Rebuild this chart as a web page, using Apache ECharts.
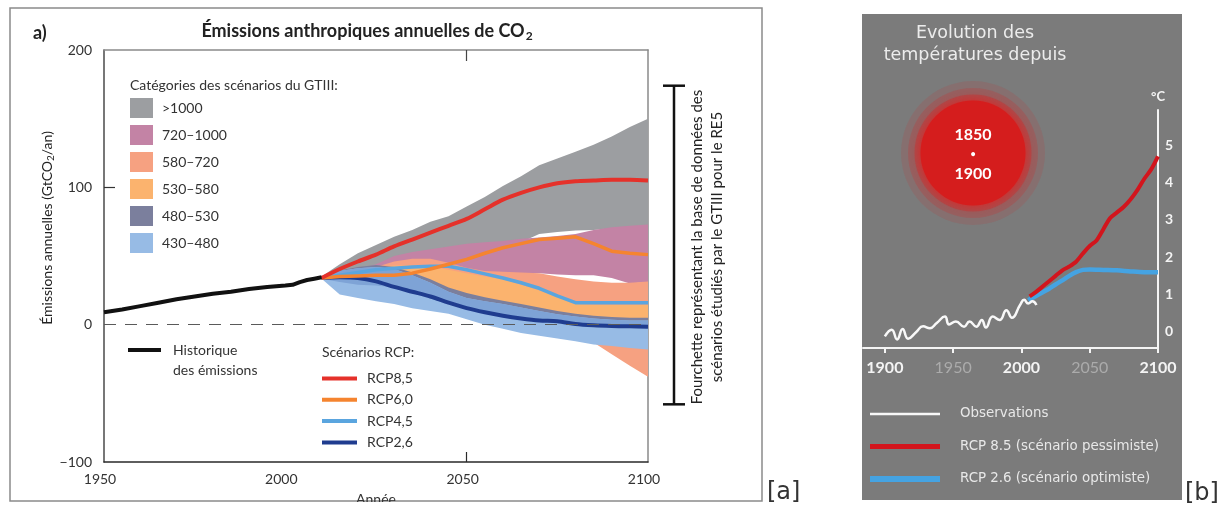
<!DOCTYPE html>
<html>
<head>
<meta charset="utf-8">
<script src="https://cdn.jsdelivr.net/npm/echarts@6/dist/echarts.min.js"></script>
<style>
  html, body { margin: 0; padding: 0; background: #fff; }
  #chart { width: 1222px; height: 511px; }
</style>
</head>
<body>
<div id="chart"></div>
<script>
// ---------- Panel a: annual anthropogenic CO2 emissions (GtCO2/yr) ----------
const bandYears = [2010, 2015, 2020, 2025, 2030, 2035, 2040, 2045, 2050, 2055, 2060, 2065, 2070, 2075, 2080, 2085, 2090, 2095, 2100];

// scenario category ranges (lower / upper envelope)
const bandGt1000Hi = [35, 44, 52, 58, 64, 69, 75, 79, 86, 93, 101, 108, 116, 121, 126, 131, 137, 144, 150];
const bandGt1000Lo = [34, 35, 37, 41, 47, 50, 52, 54, 56, 57, 58, 60, 66, 67.5, 68.5, 69, 70, 71, 72];
const band720Hi = [34, 37, 40, 44, 50, 53, 55, 57, 59, 60, 61, 62.5, 63.5, 64.5, 66, 69, 71, 72, 73];
const band720Lo = [33, 34, 36, 38, 40, 41, 41, 40, 38, 37, 37, 37, 37.5, 36.5, 36, 36, 34, 30, 31];
const band580Hi = [34, 36, 39, 42, 46, 48, 48, 45, 41.5, 39, 38.5, 38, 37.5, 35, 33, 31.5, 30.5, 30.5, 31.5];
const band580Lo = [34, 30, 25, 22, 20, 17, 14, 12, 8, 4, 1, -2, -4, -7, -10, -13, -21.5, -30, -38];
const band530Hi = [34, 37, 40, 42, 43, 43, 42, 40, 37.5, 35, 33, 29, 25, 20, 15, 14.5, 14.5, 14.5, 14.5];
const band530Lo = [33, 35, 38, 40, 39, 35, 30, 24, 20, 17, 15, 12, 10, 7.5, 5.5, 4, 3, 3, 3];
const band480Hi = [35, 39.5, 42, 43.5, 42, 38, 33, 27, 23, 20, 17.5, 15, 12.5, 10, 8, 6.5, 5.5, 5, 5];
const band480Lo = [33.5, 31, 29, 28.5, 27, 23, 19, 15, 12, 9, 6.5, 5, 4, 3.5, 2, 0.5, -0.5, -1, -1.5];
const band430Hi = [34.5, 39, 41, 42, 40.5, 36, 30.5, 24, 19.5, 17, 15, 12.5, 10, 7.5, 6, 4.5, 3.5, 3, 3];
const band430Lo = [33.5, 22, 19.5, 17, 15, 12, 10, 8, 4, 0, -3, -6, -8, -10, -12, -14.5, -15.5, -17, -18];

// historical emissions
const histYears = [1950, 1955, 1960, 1965, 1970, 1975, 1980, 1985, 1990, 1995, 2000, 2002, 2004, 2006, 2008, 2010];
const histEmissions = [9, 11, 13.5, 16, 18.5, 20.5, 22.5, 24, 26, 27.5, 28.5, 29, 31, 32.5, 33.5, 34.5];

// RCP pathways
const rcpYears = bandYears;
const rcp85 = [34, 40.5, 46, 51, 57, 62, 67, 72, 77, 84, 91, 96, 100, 103, 104.5, 105, 105.5, 105.5, 105];
const rcp60 = [34, 35, 35.5, 36, 36, 37.5, 40.5, 44, 47.5, 52, 56, 59, 62, 63, 64, 59, 53.5, 52, 51];
const rcp45 = [34, 36, 38, 40, 41, 42, 42.5, 42.5, 40, 37, 34, 30.5, 26.5, 21, 16, 16, 16, 16, 16];
const rcp26 = [34, 34.5, 34, 31.5, 27.5, 24, 20.5, 16, 12, 9, 6.5, 4.5, 3, 2.5, 0.5, -0.5, -1, -1.2, -1.5];

const xTicksA = [1950, 2000, 2050, 2100];
const bracketRange = [-58, 174];

// ---------- Panel b: temperature change since 1850-1900 (°C) ----------
const obsYears = [1900, 1905, 1909, 1913, 1917, 1923, 1928, 1933, 1938, 1944, 1947, 1952, 1958, 1962, 1967, 1971, 1974, 1979, 1984, 1989, 1993, 1999, 2002, 2005, 2008, 2011];
const obsTemp = [-0.12, 0.06, -0.2, 0.08, -0.18, 0.0, 0.15, 0.1, 0.24, 0.41, 0.2, 0.28, 0.14, 0.28, 0.14, 0.32, 0.12, 0.41, 0.32, 0.58, 0.38, 0.72, 0.86, 0.76, 0.82, 0.72];
const proj85Years = [2006, 2010, 2015, 2020, 2025, 2030, 2035, 2040, 2045, 2050, 2055, 2060, 2065, 2070, 2075, 2080, 2085, 2090, 2095, 2100];
const proj85Temp = [0.95, 1.05, 1.2, 1.35, 1.5, 1.65, 1.75, 1.88, 2.1, 2.3, 2.45, 2.75, 3.05, 3.2, 3.35, 3.55, 3.8, 4.1, 4.35, 4.7];
const proj26Years = [2005, 2010, 2015, 2020, 2025, 2030, 2035, 2040, 2045, 2050, 2060, 2070, 2080, 2090, 2100];
const proj26Temp = [0.85, 0.95, 1.05, 1.15, 1.27, 1.38, 1.5, 1.6, 1.66, 1.67, 1.66, 1.65, 1.62, 1.6, 1.6];

const xTicksB = [1900, 1950, 2000, 2050, 2100];
const yTicksB = [0, 1, 2, 3, 4, 5];

// ---------- helpers ----------
const FA = 'Lato, "Open Sans", sans-serif';
const FB = '"DejaVu Sans", sans-serif';
const pairs = (xs, ys) => xs.map((x, i) => [x, ys[i]]);
const plainNumber = v => (v < 0 ? '\u2212' + Math.abs(v) : String(v));

function bandSeries(name, lo, hi, color) {
  return {
    type: 'custom',
    name: name,
    xAxisIndex: 0,
    yAxisIndex: 0,
    silent: true,
    z: 1,
    itemStyle: { color: color },
    data: [[bandYears[0], hi[0]]],
    renderItem: function (params, api) {
      const pts = [];
      for (let i = 0; i < bandYears.length; i++) pts.push(api.coord([bandYears[i], hi[i]]));
      for (let i = bandYears.length - 1; i >= 0; i--) pts.push(api.coord([bandYears[i], lo[i]]));
      return { type: 'polygon', shape: { points: pts }, style: { fill: color } };
    }
  };
}

// where the 480–530 and 430–480 ranges overlap, the colours mix
const overlapLo = bandYears.map((_, i) => Math.max(band480Lo[i], band430Lo[i]));
const overlapHi = bandYears.map((_, i) => Math.max(overlapLo[i], Math.min(band480Hi[i], band430Hi[i])));

const bands = [
  ['>1000', bandGt1000Lo, bandGt1000Hi, '#9c9ea1'],
  ['720–1000', band720Lo, band720Hi, '#c383a5'],
  ['580–720', band580Lo, band580Hi, '#f6a181'],
  ['530–580', band530Lo, band530Hi, '#fbb36e'],
  ['480–530', band480Lo, band480Hi, '#7b7f9d'],
  ['430–480', band430Lo, band430Hi, '#97bbe5']
];

const series = bands.map(b => bandSeries(b[0], b[1], b[2], b[3]));
const overlap = bandSeries('', overlapLo, overlapHi, '#7ea3d6');
delete overlap.name;
series.push(overlap);

function rcpLine(name, values, color, width, smooth) {
  return {
    type: 'line', name: name, xAxisIndex: 0, yAxisIndex: 0,
    data: pairs(rcpYears, values), symbol: 'none', smooth: smooth, z: 3,
    lineStyle: { color: color, width: width }, itemStyle: { color: color }
  };
}
series.push(rcpLine('RCP2,6', rcp26, '#1f3c8f', 4, 0.3));
series.push(rcpLine('RCP4,5', rcp45, '#5aa5df', 3.5, false));
series.push(rcpLine('RCP6,0', rcp60, '#f5842f', 3.5, false));
series.push(rcpLine('RCP8,5', rcp85, '#e5312a', 4, 0.3));
series.push({
  type: 'line', name: 'Historique des émissions', xAxisIndex: 0, yAxisIndex: 0,
  data: pairs(histYears, histEmissions), symbol: 'none', z: 4,
  lineStyle: { color: '#111', width: 4 }, itemStyle: { color: '#111' },
  markLine: {
    silent: true, symbol: 'none', label: { show: false },
    lineStyle: { type: [12, 9], color: '#5a5a5a', width: 1 },
    data: [{ yAxis: 0 }]
  }
});

series.push({
  type: 'line', name: 'RCP 2.6 (scénario optimiste)', xAxisIndex: 2, yAxisIndex: 2,
  data: pairs(proj26Years, proj26Temp), symbol: 'none', smooth: 0.3, z: 3,
  lineStyle: { color: '#45a3e2', width: 4.5 }, itemStyle: { color: '#45a3e2' }
});
series.push({
  type: 'line', name: 'RCP 8.5 (scénario pessimiste)', xAxisIndex: 2, yAxisIndex: 2,
  data: pairs(proj85Years, proj85Temp), symbol: 'none', smooth: 0.3, z: 3,
  lineStyle: { color: '#d2151d', width: 4 }, itemStyle: { color: '#d2151d' }
});
series.push({
  type: 'line', name: 'Observations', xAxisIndex: 2, yAxisIndex: 2,
  data: pairs(obsYears, obsTemp), symbol: 'none', smooth: true, z: 4,
  lineStyle: { color: '#f8f8f8', width: 2.5 }, itemStyle: { color: '#f8f8f8' }
});

const txtA = { fontFamily: FA, fontSize: 14, color: '#333' };

const option = {
  animation: false,
  backgroundColor: '#ffffff',
  title: [
    {
      text: '{t|Émissions anthropiques annuelles de CO}{s|2}',
      left: 367, top: 21, padding: 0, textAlign: 'center',
      textStyle: {
        rich: {
          t: { fontFamily: FA, fontSize: 18, fontWeight: 'bold', color: '#222' },
          s: { fontFamily: FA, fontSize: 12, fontWeight: 'bold', color: '#222', padding: [9, 0, 0, 1] }
        }
      }
    },
    {
      text: 'Evolution des\ntempératures depuis',
      left: 975, top: 22, padding: 0, textAlign: 'center',
      textStyle: { fontFamily: FB, fontSize: 17.5, fontWeight: 'normal', color: '#ececec', lineHeight: 22 }
    }
  ],
  grid: [
    { left: 104, top: 50, width: 544, height: 413 },
    { left: 863, top: 110, width: 295, height: 238 }
  ],
  xAxis: [
    {
      gridIndex: 0, type: 'value', min: 1950, max: 2100, position: 'bottom',
      axisLine: { show: true, onZero: false, lineStyle: { color: '#2a2a2a', width: 1.5 } },
      axisTick: { show: true, inside: true, length: 10, customValues: [2050], lineStyle: { color: '#2a2a2a', width: 1.2 } },
      axisLabel: Object.assign({ customValues: xTicksA, margin: 10, padding: [0, 8, 0, 0], formatter: plainNumber }, txtA),
      splitLine: { show: false },
      name: 'Année', nameLocation: 'middle', nameGap: 30, nameTextStyle: txtA
    },
    {
      gridIndex: 0, type: 'value', min: 1950, max: 2100, position: 'top',
      axisLine: { show: true, onZero: false, lineStyle: { color: '#8a8a8a', width: 1.5 } },
      axisTick: { show: true, inside: true, length: 11, customValues: [2050], lineStyle: { color: '#444', width: 1.2 } },
      axisLabel: { show: false }, splitLine: { show: false }
    },
    {
      gridIndex: 1, type: 'value', min: 1884, max: 2100,
      axisLine: { show: true, onZero: false, lineStyle: { color: '#f4f4f4', width: 2 } },
      axisTick: { show: true, length: 5, customValues: xTicksB, lineStyle: { color: '#f4f4f4', width: 2 } },
      axisLabel: {
        customValues: xTicksB, margin: 12,
        formatter: v => (v % 100 === 0 ? '{b|' + v + '}' : '{d|' + v + '}'),
        rich: {
          b: { fontFamily: FA, fontSize: 16, fontWeight: 'bold', color: '#f4f4f4' },
          d: { fontFamily: FA, fontSize: 16, fontWeight: 'normal', color: '#ababab' }
        }
      },
      splitLine: { show: false }
    }
  ],
  yAxis: [
    {
      gridIndex: 0, type: 'value', min: -100, max: 200, interval: 100, position: 'left',
      axisLine: { show: true, onZero: false, lineStyle: { color: '#4a4a4a', width: 1.5 } },
      axisTick: { show: true, inside: true, length: 11, customValues: [100], lineStyle: { color: '#333', width: 1.2 } },
      axisLabel: Object.assign({ margin: 12, formatter: plainNumber }, txtA),
      splitLine: { show: false },
      name: '{n|Émissions annuelles (GtCO}{s|2}{n|/an)}',
      nameLocation: 'middle', nameGap: 46, nameRotate: 90,
      nameTextStyle: {
        padding: [0, 0, 0, 56],
        rich: {
          n: { fontFamily: FA, fontSize: 14, color: '#222' },
          s: { fontFamily: FA, fontSize: 10, color: '#222', padding: [6, 0, 0, 0] }
        }
      }
    },
    {
      gridIndex: 0, type: 'value', min: -100, max: 200, interval: 100, position: 'right',
      axisLine: { show: true, onZero: false, lineStyle: { color: '#8a8a8a', width: 1.5 } },
      axisTick: { show: true, inside: true, length: 10, customValues: [100], lineStyle: { color: '#444', width: 1.2 } },
      axisLabel: { show: false }, splitLine: { show: false }
    },
    {
      gridIndex: 1, type: 'value', min: -0.43, max: 5.94, position: 'right',
      axisLine: { show: true, onZero: false, lineStyle: { color: '#f4f4f4', width: 2 } },
      axisTick: { show: false },
      axisLabel: { customValues: yTicksB, color: '#f4f4f4', fontFamily: FA, fontWeight: 'bold', fontSize: 14, margin: 7 },
      splitLine: { show: false },
      name: '°C', nameLocation: 'end', nameGap: 7,
      nameTextStyle: { color: '#f4f4f4', fontFamily: FA, fontWeight: 'bold', fontSize: 13, align: 'center' }
    }
  ],
  legend: [
    {
      id: 'categories', data: bands.map(b => b[0]), orient: 'vertical',
      left: 130, top: 98, padding: 0, itemWidth: 23, itemHeight: 20, itemGap: 7, icon: 'rect',
      selectedMode: false,
      textStyle: { fontFamily: FA, fontSize: 14, color: '#333', padding: [0, 0, 0, 4] }
    },
    {
      // blank first line keeps the swatch level with "Historique"
      id: 'history', data: ['Historique des émissions'], orient: 'vertical',
      left: 128, top: 320, padding: 0, itemWidth: 33, itemHeight: 4, icon: 'rect',
      selectedMode: false,
      formatter: () => '\nHistorique\ndes émissions',
      textStyle: { fontFamily: FA, fontSize: 14, color: '#333', lineHeight: 20, padding: [0, 0, 0, 7] }
    },
    {
      id: 'rcp', data: ['RCP8,5', 'RCP6,0', 'RCP4,5', 'RCP2,6'], orient: 'vertical',
      left: 322, top: 370.5, padding: 0, itemWidth: 35, itemHeight: 4, itemGap: 5.3, icon: 'rect',
      selectedMode: false,
      textStyle: { fontFamily: FA, fontSize: 14, color: '#333', lineHeight: 16, padding: [0, 0, 0, 5] }
    },
    {
      id: 'temperature', orient: 'vertical',
      data: [
        { name: 'Observations', icon: 'path://M0,0M0,1.8H70V4.2H0ZM70,6' },
        { name: 'RCP 8.5 (scénario pessimiste)', icon: 'path://M0,0M0,0.5H70V5.5H0ZM70,6' },
        { name: 'RCP 2.6 (scénario optimiste)', icon: 'rect' }
      ],
      left: 870, top: 406.5, padding: 0, itemWidth: 70, itemHeight: 6, itemGap: 17.5,
      selectedMode: false,
      textStyle: { fontFamily: FB, fontSize: 13.4, color: '#e8e8e8', lineHeight: 15, padding: [0, 0, 0, 15] }
    }
  ],
  series: series
};

const chart = echarts.init(document.getElementById('chart'), null, { renderer: 'canvas' });
chart.setOption(option);

// bracket marking the range of the WGIII scenario database, placed with the y scale
const yTop = chart.convertToPixel({ yAxisIndex: 0 }, bracketRange[1]);
const yBot = chart.convertToPixel({ yAxisIndex: 0 }, bracketRange[0]);

chart.setOption({
  graphic: {
    elements: [
      // panel b background
      { type: 'rect', z: -10, shape: { x: 862, y: 14, width: 320, height: 486 }, style: { fill: '#7b7b7b' } },
      // panel a frame
      { type: 'rect', z: 0, shape: { x: 10, y: 8, width: 752, height: 493 }, style: { fill: 'none', stroke: '#8a8a8a', lineWidth: 1.5 } },
      { type: 'rect', z: 50, shape: { x: 9, y: 502, width: 755, height: 9 }, style: { fill: '#ffffff' } },
      { type: 'text', z: 60, x: 33, y: 33, style: { text: 'a)', font: 'bold 18px ' + FA, fill: '#222', verticalAlign: 'middle' } },
      { type: 'text', z: 60, x: 130, y: 85, style: { text: 'Catégories des scénarios du GTIII:', font: '14px ' + FA, fill: '#333', verticalAlign: 'middle' } },
      { type: 'text', z: 60, x: 322, y: 352, style: { text: 'Scénarios RCP:', font: '14px ' + FA, fill: '#333', verticalAlign: 'middle' } },
      // bracket
      { type: 'line', z: 60, shape: { x1: 674, y1: yTop, x2: 674, y2: yBot }, style: { stroke: '#111', lineWidth: 2.5 } },
      { type: 'line', z: 60, shape: { x1: 663, y1: yTop, x2: 685, y2: yTop }, style: { stroke: '#111', lineWidth: 2.5 } },
      { type: 'line', z: 60, shape: { x1: 663, y1: yBot, x2: 685, y2: yBot }, style: { stroke: '#111', lineWidth: 2.5 } },
      {
        type: 'text', z: 60, x: 707, y: (yTop + yBot) / 2 + 2, rotation: Math.PI / 2,
        style: {
          text: 'Fourchette représentant la base de données des\nscénarios étudiés par le GTIII pour le RE5',
          font: '15px ' + FA, fill: '#222', align: 'center', verticalAlign: 'middle', lineHeight: 20
        }
      },
      { type: 'text', z: 60, x: 767, y: 493, style: { text: '[a]', font: '24px "DejaVu Sans ExtraLight", "DejaVu Sans"', fill: '#333', verticalAlign: 'middle' } },
      { type: 'text', z: 60, x: 1185, y: 494, style: { text: '[b]', font: '24px "DejaVu Sans ExtraLight", "DejaVu Sans"', fill: '#333', verticalAlign: 'middle' } },
      // glowing disc
      { type: 'circle', z: -5, shape: { cx: 973, cy: 153, r: 72 }, style: { fill: 'rgba(205,45,45,0.14)' } },
      { type: 'circle', z: -5, shape: { cx: 973, cy: 153, r: 65 }, style: { fill: 'rgba(205,45,45,0.24)' } },
      { type: 'circle', z: -5, shape: { cx: 973, cy: 153, r: 58.5 }, style: { fill: 'rgba(210,40,40,0.4)' } },
      { type: 'circle', z: -4, shape: { cx: 973, cy: 153, r: 52.5 }, style: { fill: '#d51d1d', shadowBlur: 10, shadowColor: 'rgba(230,30,30,0.8)' } },
      { type: 'text', z: 60, x: 973, y: 135, style: { text: '1850', font: 'bold 16px ' + FA, fill: '#ffffff', align: 'center', verticalAlign: 'middle' } },
      { type: 'text', z: 60, x: 973, y: 154, style: { text: '•', font: 'bold 9px ' + FA, fill: '#ffffff', align: 'center', verticalAlign: 'middle' } },
      { type: 'text', z: 60, x: 973, y: 174, style: { text: '1900', font: 'bold 16px ' + FA, fill: '#ffffff', align: 'center', verticalAlign: 'middle' } }
    ]
  }
});
</script>
</body>
</html>
